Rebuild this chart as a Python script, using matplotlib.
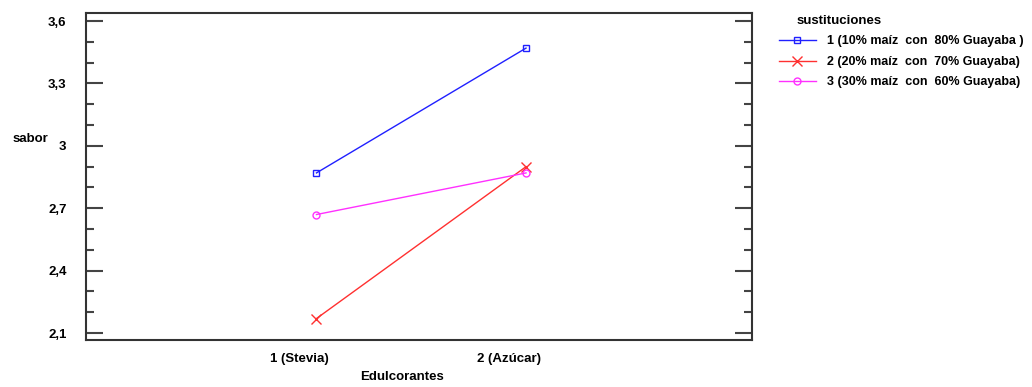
import matplotlib
matplotlib.use("Agg")
import matplotlib.pyplot as plt
import matplotlib.transforms as mtransforms
from matplotlib.ticker import MultipleLocator, FuncFormatter

plt.rcParams['font.family'] = ['Liberation Sans Narrow', 'Liberation Sans', 'DejaVu Sans']

# medias de sabor por edulcorante y sustitucion
edulcorantes = ['1 (Stevia)', '2 (Azúcar)']
x_pos = [1, 2]
sust_1 = [2.87, 3.47]
sust_2 = [2.17, 2.90]
sust_3 = [2.67, 2.87]
nombres = ['1 (10% maíz  con  80% Guayaba )',
           '2 (20% maíz  con  70% Guayaba)',
           '3 (30% maíz  con  60% Guayaba)']

fig = plt.figure(figsize=(10.32, 3.87), dpi=100)
ax = fig.add_axes([0.0833, 0.121, 0.6457, 0.845])

ax.plot(x_pos, sust_1, color='#2020ff', lw=1, marker='s', ms=5, mfc='none', mew=1, label=nombres[0])
ax.plot(x_pos, sust_2, color='#ff3030', lw=1, marker='x', ms=7, mew=1, label=nombres[1])
ax.plot(x_pos, sust_3, color='#ff30ff', lw=1, marker='o', ms=5, mfc='none', mew=1, label=nombres[2])

ax.set_xlim(-0.1, 3.08)
ax.set_ylim(2.066, 3.638)
ax.set_xticks(x_pos)
ax.set_xticklabels(edulcorantes, fontsize=9.5, fontweight='bold')
ax.tick_params(axis='x', length=0, pad=9)
shift = mtransforms.ScaledTranslation(-0.17, 0, fig.dpi_scale_trans)
for lbl in ax.get_xticklabels():
    lbl.set_transform(lbl.get_transform() + shift)

ax.yaxis.set_major_locator(MultipleLocator(0.3))
ax.yaxis.set_minor_locator(MultipleLocator(0.1))
ax.yaxis.set_major_formatter(FuncFormatter(lambda v, p: ('%g' % round(v, 1)).replace('.', ',')))
ax.tick_params(axis='y', which='major', direction='in', length=12, width=1.5,
               left=True, right=True, labelsize=9.5, pad=14, color='#444444')
ax.tick_params(axis='y', which='minor', direction='in', length=6, width=1.5,
               left=True, right=True, color='#444444')
for lbl in ax.get_yticklabels():
    lbl.set_fontweight('bold')

for s in ax.spines.values():
    s.set_linewidth(1.5)
    s.set_color('#333333')

ax.set_xlabel('Edulcorantes', fontsize=9.5, fontweight='bold')
ax.xaxis.set_label_coords(0.474, -0.095)
fig.text(0.012, 0.64, 'sabor', fontsize=9.5, fontweight='bold', ha='left', va='center')

fig.text(0.772, 0.945, 'sustituciones', fontsize=9.5, fontweight='bold', ha='left', va='center')
fig.legend(loc='upper left', bbox_to_anchor=(0.752, 0.915), frameon=False,
           handlelength=3.0, handletextpad=0.9, labelspacing=0.68,
           borderaxespad=0, borderpad=0.2,
           prop={'weight': 'bold', 'size': 9})

fig.savefig('out.png', dpi=100)
